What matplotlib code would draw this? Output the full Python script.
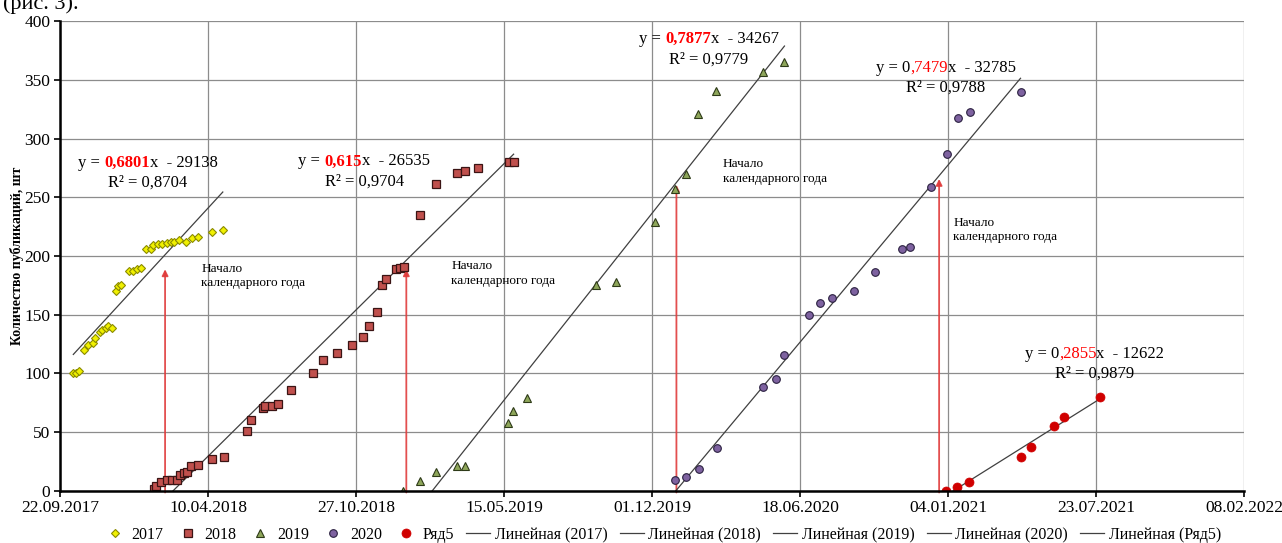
import numpy as np
import pandas as pd
import matplotlib
matplotlib.use("Agg")
import matplotlib.pyplot as plt
from matplotlib.ticker import FuncFormatter
from matplotlib.offsetbox import TextArea, HPacker, VPacker, AnnotationBbox

# x values are Excel date serials (days since 30.12.1899)
x_2017 = [43018, 43021, 43026, 43032, 43038, 43044, 43047, 43054, 43057, 43062, 43065,
          43070, 43076, 43079, 43083, 43093, 43098, 43104, 43109, 43116, 43123, 43126,
          43132, 43138, 43144, 43150, 43154, 43161, 43170, 43178, 43187, 43205, 43220]
y_2017 = [100, 100, 102, 120, 124, 126, 130, 135, 137, 139, 140,
          139, 170, 174, 175, 187, 187, 189, 190, 206, 206, 209,
          210, 210, 211, 212, 212, 214, 212, 215, 216, 220, 222]

x_2018 = [43127, 43130, 43137, 43144, 43151, 43158, 43162, 43167, 43171, 43177, 43187,
          43205, 43221, 43253, 43258, 43274, 43277, 43287, 43295, 43312, 43342, 43355,
          43374, 43395, 43410, 43417, 43428, 43435, 43441, 43454, 43460, 43465, 43487,
          43508, 43537, 43547, 43565, 43607, 43613]
y_2018 = [1, 4, 7, 9, 9, 9, 13, 15, 16, 21, 22,
          27, 29, 51, 60, 70, 72, 72, 74, 86, 100, 111,
          117, 124, 131, 140, 152, 175, 180, 189, 190, 191, 235,
          261, 271, 272, 275, 280, 280]

x_2019 = [43464, 43487, 43508, 43537, 43547, 43606, 43612, 43631, 43724, 43751, 43804,
          43831, 43846, 43862, 43887, 43950, 43979]
y_2019 = [0, 8, 16, 21, 21, 58, 68, 79, 175, 178, 229,
          257, 270, 321, 341, 357, 365]

x_2020 = [43831, 43846, 43863, 43888, 43950, 43967, 43978, 44012, 44027, 44043, 44073,
          44102, 44138, 44149, 44177, 44198, 44213, 44230, 44298]
y_2020 = [9, 12, 18, 36, 88, 95, 116, 150, 160, 164, 170,
          186, 206, 208, 259, 287, 318, 323, 340]

x_r5 = [44197, 44212, 44229, 44299, 44312, 44343, 44357, 44405]
y_r5 = [0, 3, 7, 29, 37, 55, 63, 80]

eq_pre = ["y = ", "y = ", "y = ", "y = 0", "y = 0"]
eq_coef = ["0,6801", "0,615", "0,7877", ",7479", ",2855"]
eq_post = ["x  - 29138", "x  - 26535", "x  - 34267", "x  - 32785", "x  - 12622"]
eq_r2 = ["R² = 0,8704", "R² = 0,9704", "R² = 0,9779", "R² = 0,9788", "R² = 0,9879"]
eq_pos = [(43119, 271), (43411, 272), (43877, 376), (44197, 352), (44398, 108)]

arrow_x = [43142, 43468, 43833, 44188]
arrow_top = [191, 191, 263, 268]
note_pos = [(43191, 183), (43529, 185), (43896, 272), (44207, 222)]

FONT = "Liberation Serif"
plt.rcParams['font.family'] = [FONT, 'DejaVu Sans']

fig = plt.figure(figsize=(12.82, 5.43), dpi=100)
ax = fig.add_axes([60 / 1282, 1 - 490.6 / 543, 1184 / 1282, 469.3 / 543])

series = [
    (x_2017, y_2017, "2017", dict(marker='D', ms=4.5, mfc='#F0F000', mec='#8A8A00', mew=0.8)),
    (x_2018, y_2018, "2018", dict(marker='s', ms=5.5, mfc='#C0504D', mec='#3A1414', mew=0.9)),
    (x_2019, y_2019, "2019", dict(marker='^', ms=6, mfc='#8EA65A', mec='#2E3A18', mew=0.8)),
    (x_2020, y_2020, "2020", dict(marker='o', ms=5.5, mfc='#7E62A0', mec='#2A2040', mew=0.8)),
    (x_r5, y_r5, "Ряд5", dict(marker='o', ms=6.5, mfc='#D00000', mec='#D00000', mew=0.5)),
]

handles = []
for xs, ys, name, st in series:
    h, = ax.plot(xs, ys, ls='none', label=name, zorder=4, **st)
    handles.append(h)

# linear trend lines (least squares), spanning each series' x range
for (xs, ys, name, st) in series:
    k, b = np.polyfit(xs, ys, 1)
    xx = np.array([min(xs), max(xs)])
    h, = ax.plot(xx, k * xx + b, color='#404040', lw=0.9, zorder=3,
                 label="Линейная (%s)" % name)
    handles.append(h)

for xa, top in zip(arrow_x, arrow_top):
    ax.annotate('', xy=(xa, top), xytext=(xa, -4), annotation_clip=False,
                arrowprops=dict(arrowstyle='-|>', color='#E03C3C', lw=1.3,
                                mutation_scale=9, alpha=0.9), zorder=2)

for (nx, ny) in note_pos:
    ax.text(nx, ny, "Начало\nкалендарного года", fontsize=9.5, family=FONT,
            ha='left', va='center', linespacing=1.25, zorder=5)

for i in range(5):
    tp = dict(family=FONT, size=12, color='black')
    rp = dict(family=FONT, size=12, color='red', weight='bold' if i < 3 else 'normal')
    line1 = HPacker(children=[TextArea(eq_pre[i], textprops=tp),
                              TextArea(eq_coef[i], textprops=rp),
                              TextArea(eq_post[i], textprops=tp)],
                    pad=0, sep=0, align='baseline')
    line2 = TextArea(eq_r2[i], textprops=tp)
    box = VPacker(children=[line1, line2], align='center', pad=0, sep=3)
    ab = AnnotationBbox(box, eq_pos[i], frameon=False, box_alignment=(0.5, 0.5),
                        pad=0, zorder=6)
    ax.add_artist(ab)

ax.set_xlim(43000, 44600)
ax.set_ylim(0, 400)
ax.set_xticks(np.arange(43000, 44601, 200))
ax.set_yticks(np.arange(0, 401, 50))

def fmt_date(v, pos):
    d = pd.Timestamp('1899-12-30') + pd.Timedelta(days=int(round(v)))
    return d.strftime('%d.%m.%Y')

ax.xaxis.set_major_formatter(FuncFormatter(fmt_date))
ax.grid(True, color='#8C8C8C', lw=0.9)
ax.set_axisbelow(True)
for s in ['top', 'right']:
    ax.spines[s].set_visible(False)
for s in ['left', 'bottom']:
    ax.spines[s].set_linewidth(1.8)
    ax.spines[s].set_zorder(5)
ax.tick_params(axis='both', direction='out', length=4, width=1.2, labelsize=12.5, pad=3)
for lab in ax.get_xticklabels() + ax.get_yticklabels():
    lab.set_family(FONT)

ax.set_ylabel("Количество публикаций, шт", fontsize=10, fontweight='bold', family=FONT)
ax.yaxis.set_label_coords(-0.030, 0.5)

fig.legend(handles=handles, loc='center', bbox_to_anchor=(662 / 1282, 1 - 535 / 543),
           ncol=10, frameon=False, prop=dict(family=FONT, size=11.5),
           handlelength=1.5, handletextpad=0.3, columnspacing=0.75, numpoints=1)

fig.text(0.002, 1 - 8.5 / 543, "(рис. 3).", fontsize=16, family=FONT, va='baseline', ha='left')

fig.savefig("out.png", dpi=100)
